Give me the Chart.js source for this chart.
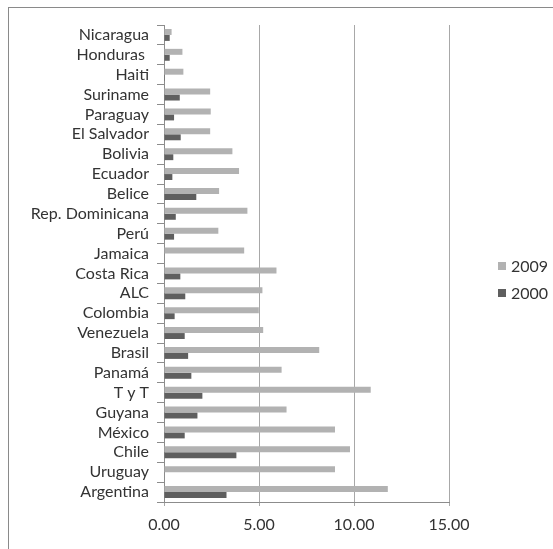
<!DOCTYPE html>
<html>
<head>
<meta charset="utf-8">
<script src="https://cdn.jsdelivr.net/npm/chart.js@4/dist/chart.umd.min.js"></script>
<style>
  html, body { margin: 0; padding: 0; background: #ffffff; }
  #wrap { position: relative; width: 553px; height: 549px; }
</style>
</head>
<body>
<div id="wrap"><canvas id="chart" width="553" height="549"></canvas></div>
<script>
// Countries, top to bottom
const categories = ['Nicaragua', 'Honduras ', 'Haiti', 'Suriname', 'Paraguay', 'El Salvador', 'Bolivia',
  'Ecuador', 'Belice', 'Rep. Dominicana', 'Perú', 'Jamaica', 'Costa Rica', 'ALC', 'Colombia',
  'Venezuela', 'Brasil', 'Panamá', 'T y T', 'Guyana', 'México', 'Chile', 'Uruguay', 'Argentina'];

const seriesLabels = ['2009', '2000'];

const values2009 = [0.40, 0.97, 1.02, 2.43, 2.46, 2.43, 3.60, 3.95, 2.90, 4.39, 2.86, 4.22,
  5.92, 5.18, 4.99, 5.22, 8.17, 6.19, 10.88, 6.45, 9.00, 9.79, 9.00, 11.78];

const values2000 = [0.30, 0.30, 0.05, 0.83, 0.53, 0.88, 0.49, 0.44, 1.70, 0.62, 0.53, null,
  0.86, 1.12, 0.56, 1.09, 1.27, 1.44, 2.02, 1.76, 1.09, 3.81, null, 3.29];

const xTicks = [0, 5, 10, 15];

const colors = ['#b2b2b2', '#5f5f5f'];
const textColor = '#333333';
const fontFamily = 'Lato, "Open Sans", sans-serif';
const fontSize = 16;

// Outer frame and the legend to the right of the plot
const framePlugin = {
  id: 'frame',
  beforeDraw(chart) {
    const ctx = chart.ctx;
    ctx.save();
    ctx.strokeStyle = '#8a8a8a';
    ctx.lineWidth = 1;
    ctx.strokeRect(8.5, 7.5, 1000, 1000);
    ctx.restore();
  }
};

const sideLegend = {
  id: 'sideLegend',
  afterDraw(chart) {
    const ctx = chart.ctx;
    const area = chart.chartArea;
    const x = area.right + 49;
    const yStart = 266;
    const gap = 27;
    ctx.save();
    ctx.font = fontSize + 'px ' + fontFamily;
    ctx.textBaseline = 'middle';
    ctx.textAlign = 'left';
    chart.data.datasets.forEach((ds, i) => {
      const y = yStart + i * gap;
      ctx.fillStyle = ds.backgroundColor;
      ctx.fillRect(x, y - 4, 8, 8);
      ctx.fillStyle = textColor;
      ctx.fillText(ds.label, x + 13, y + 1);
    });
    ctx.restore();
  }
};

new Chart(document.getElementById('chart'), {
  type: 'bar',
  data: {
    labels: categories,
    datasets: [
      { label: seriesLabels[0], data: values2009, backgroundColor: colors[0] },
      { label: seriesLabels[1], data: values2000, backgroundColor: colors[1] }
    ]
  },
  options: {
    indexAxis: 'y',
    responsive: false,
    animation: false,
    devicePixelRatio: 1,
    layout: { padding: { top: 25, right: 104, bottom: 0, left: 0 } },
    datasets: { bar: { categoryPercentage: 0.6, barPercentage: 1.0 } },
    plugins: {
      legend: { display: false },
      tooltip: { enabled: false }
    },
    scales: {
      x: {
        min: 0,
        max: 15,
        afterBuildTicks(scale) { scale.ticks = xTicks.map(v => ({ value: v })); },
        afterFit(scale) { scale.height = 47; },
        grid: { color: '#a8a8a8', lineWidth: 1, tickLength: 4, drawTicks: true },
        border: { display: true, color: '#8c8c8c' },
        ticks: {
          color: textColor,
          font: { family: fontFamily, size: fontSize },
          padding: 9,
          maxRotation: 0,
          callback: v => Number(v).toFixed(2)
        }
      },
      y: {
        afterFit(scale) { scale.width = 164; },
        grid: { display: true, drawOnChartArea: false, drawTicks: true, tickLength: 7, color: '#8c8c8c', offset: true },
        border: { display: true, color: '#8c8c8c' },
        ticks: {
          color: textColor,
          font: { family: fontFamily, size: fontSize },
          padding: 8,
          autoSkip: false
        }
      }
    }
  },
  plugins: [framePlugin, sideLegend]
});
</script>
</body>
</html>
